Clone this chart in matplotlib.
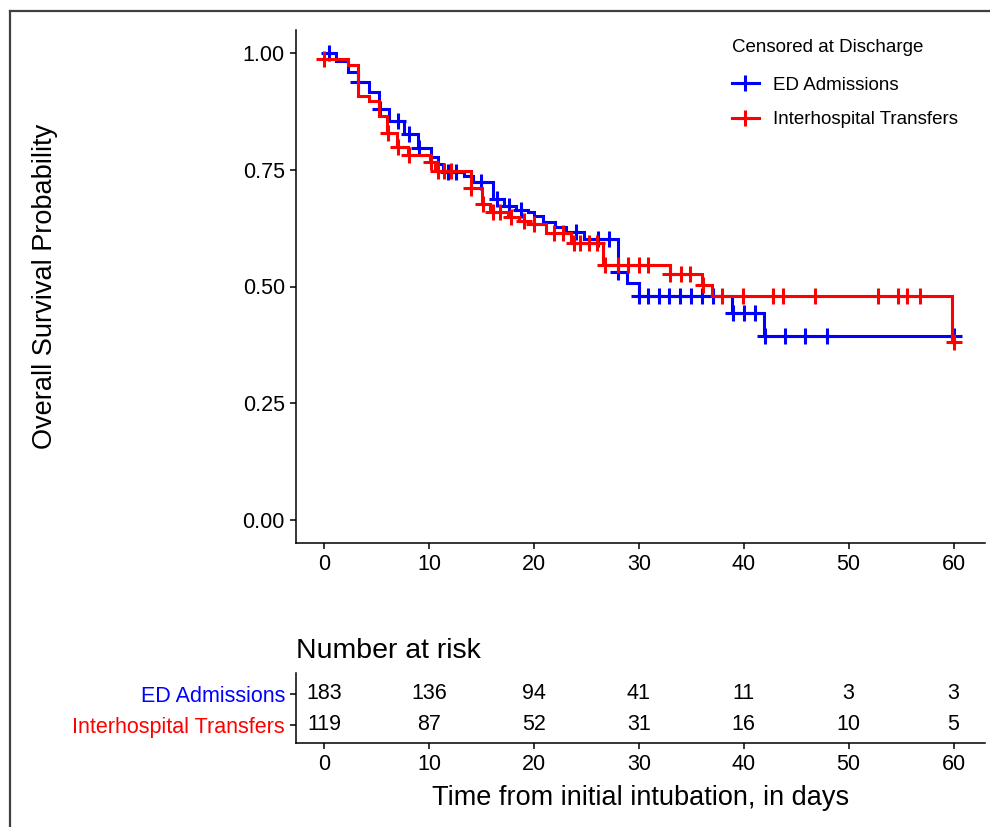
import numpy as np
import matplotlib
matplotlib.use("Agg")
import matplotlib.pyplot as plt
from matplotlib.lines import Line2D

plt.rcParams['font.family'] = ['Liberation Sans', 'DejaVu Sans']

# ---------------- data ----------------
groups = ["ED Admissions", "Interhospital Transfers"]
colors = ["#0000FF", "#FF0000"]

# ED Admissions: step times and survival after each step
ed_times = [0, 1.1, 2.3, 3.2, 4.3, 5.2, 6.2, 7.6, 8.9, 10.2, 10.8, 11.3, 13.3, 14.2,
            16.1, 17.1, 18.3, 19.4, 20.0, 20.9, 22.0, 23.0, 24.8, 28.0, 28.9, 30.0,
            38.9, 41.9]
ed_surv = [1.00, 0.983, 0.959, 0.938, 0.916, 0.880, 0.854, 0.828, 0.798, 0.777, 0.762,
           0.745, 0.738, 0.725, 0.687, 0.672, 0.665, 0.659, 0.652, 0.638, 0.627, 0.616,
           0.601, 0.532, 0.508, 0.479, 0.444, 0.393]
ed_censor = [0.4, 3.2, 5.3, 7.0, 8.1, 9.0, 11.8, 12.6, 14.9, 16.5, 17.6, 18.8, 24.0,
             26.1, 27.1, 28.0, 30.0, 30.9, 31.9, 32.9, 33.9, 35.0, 36.0, 37.1, 39.0,
             40.0, 41.1, 42.0, 43.9, 45.8, 47.9, 60.0]

# Interhospital Transfers
iht_times = [0, 2.3, 3.2, 4.3, 5.2, 6.0, 6.9, 8.0, 10.1, 10.6, 14.0, 15.0, 15.8, 17.5,
             18.6, 19.6, 21.1, 23.5, 26.6, 33.0, 36.0, 37.0, 59.9]
iht_surv = [0.987, 0.974, 0.908, 0.897, 0.865, 0.830, 0.800, 0.783, 0.766, 0.747, 0.712,
            0.676, 0.659, 0.648, 0.640, 0.633, 0.614, 0.594, 0.547, 0.526, 0.504, 0.480,
            0.382]
iht_censor = [0.0, 6.1, 7.0, 8.1, 10.2, 10.8, 11.4, 12.1, 14.0, 15.1, 16.1, 16.8, 17.8,
              19.0, 20.0, 21.9, 22.8, 23.8, 24.4, 25.2, 26.0, 26.8, 28.0, 29.0, 30.0,
              30.9, 33.0, 34.0, 34.9, 36.1, 37.9, 39.9, 42.8, 43.7, 46.8, 52.8, 54.7,
              55.6, 56.8, 60.0]

risk_times = [0, 10, 20, 30, 40, 50, 60]
risk_ed = [183, 136, 94, 41, 11, 3, 3]
risk_iht = [119, 87, 52, 31, 16, 10, 5]

x_ticks = [0, 10, 20, 30, 40, 50, 60]
y_ticks = [0.00, 0.25, 0.50, 0.75, 1.00]
y_ticklabels = ["0.00", "0.25", "0.50", "0.75", "1.00"]


def surv_at(times, surv, t):
    idx = np.searchsorted(np.asarray(times), np.asarray(t), side='right') - 1
    return np.asarray(surv)[idx]


# ---------------- figure ----------------
W, H = 990, 827
fig = plt.figure(figsize=(W / 100, H / 100), dpi=100)
fig.patch.set_facecolor('white')


def rect(l, t, r, b):
    return [l / W, 1 - b / H, (r - l) / W, (b - t) / H]


ax = fig.add_axes(rect(296, 30, 985, 543))
axr = fig.add_axes(rect(296, 673, 985, 743))

xlim = (-2.7, 63.0)

series = [
    (ed_times, ed_surv, ed_censor),
    (iht_times, iht_surv, iht_censor),
]
handles = []
for (tt, ss, cc), name, col in zip(series, groups, colors):
    tx = list(tt) + [60.0]
    sx = list(ss) + [ss[-1]]
    ax.plot(tx, sx, drawstyle='steps-post', color=col, lw=2.2, solid_joinstyle='miter')
    cy = surv_at(tt, ss, cc)
    ax.plot(cc, cy, linestyle='none', marker='+', ms=11, mew=2.2, color=col)
    handles.append(Line2D([], [], color=col, lw=2.2, marker='+', ms=11, mew=2.2))

ax.set_xlim(*xlim)
ax.set_ylim(-0.05, 1.05)
ax.set_xticks(x_ticks)
ax.set_yticks(y_ticks)
ax.set_yticklabels(y_ticklabels)
for s in ['top', 'right']:
    ax.spines[s].set_visible(False)
for s in ['left', 'bottom']:
    ax.spines[s].set_linewidth(1.1)
ax.tick_params(axis='both', labelsize=15.5, length=4, width=1.1, pad=4, colors='black')
ax.set_ylabel("Overall Survival Probability", fontsize=19.5, va='center')
ax.yaxis.set_label_coords((45 - 296) / 689, 0.5)

leg = ax.legend(handles, groups, title="Censored at Discharge", frameon=False,
                loc='upper left', bbox_to_anchor=(724 / W, 1 - 32 / H),
                bbox_transform=fig.transFigure, fontsize=13.5, title_fontsize=13.5,
                handlelength=1.45, handletextpad=0.75, labelspacing=0.92,
                alignment='left', borderaxespad=0)
leg._legend_box.sep = 14.5

# ---------------- risk table ----------------
axr.set_xlim(*xlim)
axr.set_ylim(0.42, 2.67)
for t, n in zip(risk_times, risk_ed):
    axr.text(t, 2, str(n), ha='center', va='center', fontsize=15.5)
for t, n in zip(risk_times, risk_iht):
    axr.text(t, 1, str(n), ha='center', va='center', fontsize=15.5)
axr.set_xticks(x_ticks)
axr.set_yticks([2, 1])
axr.set_yticklabels(groups)
for lab, col in zip(axr.get_yticklabels(), colors):
    lab.set_color(col)
for s in ['top', 'right']:
    axr.spines[s].set_visible(False)
for s in ['left', 'bottom']:
    axr.spines[s].set_linewidth(1.1)
axr.tick_params(axis='both', labelsize=15.5, length=4, width=1.1, pad=4)
axr.tick_params(axis='x', colors='black')
axr.set_title("Number at risk", loc='left', fontsize=20.5, pad=11)
axr.set_xlabel("Time from initial intubation, in days", fontsize=19.5)
axr.xaxis.set_label_coords(0.5, -0.79)
axr.xaxis.label.set_verticalalignment('center')

# outer frame (left and top edges)
fig.add_artist(Line2D([10 / W, 10 / W], [0, 1 - 11 / H], transform=fig.transFigure,
                      color='#404040', lw=1.6))
fig.add_artist(Line2D([10 / W, 1], [1 - 11 / H, 1 - 11 / H], transform=fig.transFigure,
                      color='#404040', lw=1.6))

fig.savefig("out.png", dpi=100)
